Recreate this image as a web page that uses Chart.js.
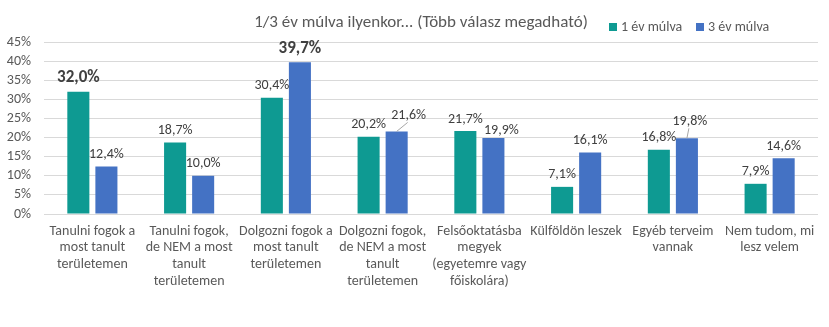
<!DOCTYPE html>
<html>
<head>
<meta charset="utf-8">
<script src="https://cdn.jsdelivr.net/npm/chart.js@4"></script>
<style>
  html, body { margin: 0; padding: 0; background: #fff; }
  #wrap { width: 829px; height: 327px; position: relative; }
</style>
</head>
<body>
<div id="wrap"><canvas id="chart"></canvas></div>
<script>
const categories = [
    ["Tanulni fogok a", "most tanult", "területemen"],
    ["Tanulni fogok,", "de NEM a most", "tanult", "területemen"],
    ["Dolgozni fogok a", "most tanult", "területemen"],
    ["Dolgozni fogok,", "de NEM a most", "tanult", "területemen"],
    ["Felsőoktatásba", "megyek", "(egyetemre vagy", "főiskolára)"],
    ["Külföldön leszek"],
    ["Egyéb terveim", "vannak"],
    ["Nem tudom, mi", "lesz velem"]
];
const seriesNames = ["1 év múlva", "3 év múlva"];
const oneYear = [32.0, 18.7, 30.4, 20.2, 21.7, 7.1, 16.8, 7.9];
const threeYears = [12.4, 10.0, 39.7, 21.6, 19.9, 16.1, 19.8, 14.6];
const yTicks = [0, 5, 10, 15, 20, 25, 30, 35, 40, 45];
const titleText = "1/3 év múlva ilyenkor... (Több válasz megadható)";

const FONT = "Carlito, Calibri, Lato, sans-serif";
const colors = ["#0E9A92", "#4472C4"];

// label tweaks (dataset-index): [dx, dy, leader line]
const nudges = {
    "1-3": [12, -4, true],
    "1-4": [8, 5, false],
    "1-6": [3, -5, true]
};

const overlay = {
    id: 'overlay',
    afterDraw(chart) {
        const ctx = chart.ctx;
        ctx.save();
        // title
        ctx.fillStyle = '#595959';
        ctx.font = '17px ' + FONT;
        ctx.textAlign = 'center';
        ctx.textBaseline = 'middle';
        ctx.fillText(titleText, 421, 23);

        // legend
        ctx.font = '14px ' + FONT;
        ctx.textAlign = 'left';
        let lx = 609;
        seriesNames.forEach((name, i) => {
            ctx.fillStyle = colors[i];
            ctx.fillRect(lx, 23, 8, 8);
            ctx.fillStyle = '#595959';
            ctx.fillText(name, lx + 12, 27);
            lx += 87;
        });

        // data labels
        ctx.textAlign = 'center';
        chart.data.datasets.forEach((ds, di) => {
            const meta = chart.getDatasetMeta(di);
            const maxVal = Math.max(...ds.data);
            meta.data.forEach((bar, i) => {
                const v = ds.data[i];
                const bold = v === maxVal;
                const txt = v.toFixed(1).replace('.', ',') + '%';
                const n = nudges[di + '-' + i] || [0, 0, false];
                const x = bar.x + n[0];
                const y = bar.y - (bold ? 14 : 12) + n[1];
                if (n[2]) {
                    ctx.strokeStyle = '#a6a6a6';
                    ctx.lineWidth = 1;
                    ctx.beginPath();
                    ctx.moveTo(bar.x, bar.y);
                    ctx.lineTo(x - 1, y + 7);
                    ctx.stroke();
                }
                ctx.fillStyle = '#404040';
                ctx.font = (bold ? 'bold 17px ' : '14px ') + FONT;
                ctx.fillText(txt, x, y);
            });
        });
        ctx.restore();
    }
};

new Chart(document.getElementById('chart'), {
    type: 'bar',
    data: {
        labels: categories,
        datasets: [
            { label: seriesNames[0], data: oneYear, backgroundColor: colors[0] },
            { label: seriesNames[1], data: threeYears, backgroundColor: colors[1] }
        ]
    },
    options: {
        responsive: true,
        maintainAspectRatio: false,
        animation: false,
        devicePixelRatio: 1,
        layout: { padding: { top: 42, right: 11, left: 0, bottom: 0 } },
        categoryPercentage: 0.58,
        barPercentage: 0.786,
        plugins: {
            legend: { display: false },
            title: { display: false },
            tooltip: { enabled: false }
        },
        scales: {
            x: {
                grid: { display: false, drawTicks: false },
                border: { display: false },
                ticks: {
                    autoSkip: false,
                    maxRotation: 0,
                    padding: 9,
                    color: '#595959',
                    font: { family: FONT, size: 14, lineHeight: 1.19 }
                },
                afterFit(scale) { scale.height = 113; }
            },
            y: {
                min: 0,
                max: 45,
                afterBuildTicks(scale) { scale.ticks = yTicks.map(v => ({ value: v })); },
                grid: { color: '#d9d9d9', drawTicks: false },
                border: { display: false },
                ticks: {
                    autoSkip: false,
                    padding: 13,
                    color: '#595959',
                    font: { family: FONT, size: 14 },
                    callback: v => v + '%'
                },
                afterFit(scale) { scale.width = 44; }
            }
        }
    },
    plugins: [overlay]
});
</script>
</body>
</html>
